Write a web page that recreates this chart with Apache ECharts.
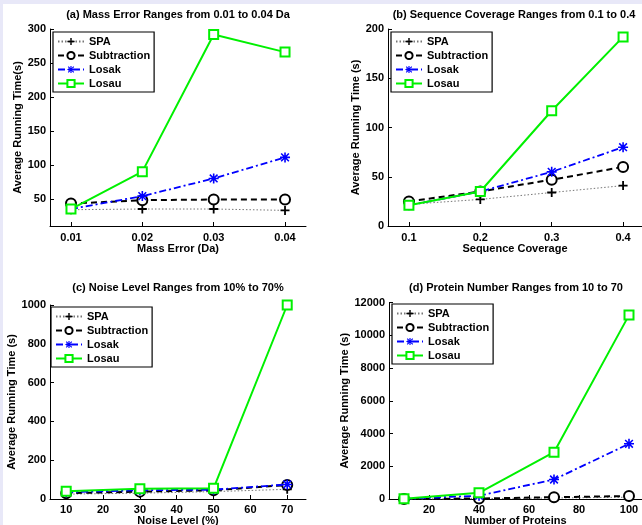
<!DOCTYPE html>
<html>
<head>
<meta charset="utf-8">
<script src="https://cdn.jsdelivr.net/npm/echarts@6/dist/echarts.min.js"></script>
<style>html,body{margin:0;padding:0;background:#fff}#c{width:642px;height:525px}</style>
</head>
<body>
<div id="c"></div>
<script>
// ---- data ----
const seriesNames = ['SPA', 'Subtraction', 'Losak', 'Losau'];

const massErrorX = [0.01, 0.02, 0.03, 0.04];
const massSPA = [34, 35, 35, 33];
const massSub = [43, 48, 49, 49];
const massLosak = [35, 54, 80, 111];
const massLosau = [35, 90, 292, 266];
const massXTicks = [0.01, 0.02, 0.03, 0.04];
const massYTicks = [50, 100, 150, 200, 250, 300];

const covX = [0.1, 0.2, 0.3, 0.4];
const covSPA = [22, 27, 34, 41];
const covSub = [25, 35, 47, 60];
const covLosak = [21, 35, 55, 80];
const covLosau = [21, 35, 117, 192];
const covXTicks = [0.1, 0.2, 0.3, 0.4];
const covYTicks = [0, 50, 100, 150, 200];

const noiseX = [10, 30, 50, 70];
const noiseSPA = [25, 30, 38, 50];
const noiseSub = [30, 38, 45, 72];
const noiseLosak = [35, 45, 48, 75];
const noiseLosau = [40, 53, 55, 1000];
const noiseXTicks = [10, 20, 30, 40, 50, 60, 70];
const noiseYTicks = [0, 200, 400, 600, 800, 1000];

const protX = [10, 40, 70, 100];
const protSPA = [5, 20, 60, 110];
const protSub = [5, 30, 110, 180];
const protLosak = [10, 200, 1190, 3370];
const protLosau = [20, 380, 2860, 11230];
const protXTicks = [20, 40, 60, 80, 100];
const protYTicks = [0, 2000, 4000, 6000, 8000, 10000, 12000];

const titles = [
  '(a) Mass Error Ranges from 0.01 to 0.04 Da',
  '(b) Sequence Coverage Ranges from 0.1 to 0.4',
  '(c) Noise Level Ranges from 10% to 70%',
  '(d) Protein Number Ranges from 10 to 70'
];
const xNames = ['Mass Error (Da)', 'Sequence Coverage', 'Noise Level (%)', 'Number of Proteins'];
const yNames = ['Average Running Time(s)', 'Average Running Time (s)', 'Average Running Time (s)', 'Average Running Time (s)'];

// ---- layout / styles ----
const FONT = 'Liberation Sans, Arial, Helvetica, sans-serif';
const panels = [
  {x: massErrorX, ys: [massSPA, massSub, massLosak, massLosau], xt: massXTicks, yt: massYTicks,
   xmin: 0.00706, xmax: 0.04294, ymin: 10, ymax: 300,
   grid: {left: 50, right: 336, top: 29, bottom: 299}, yGap: 26, xGap: 16, xMargin: 6, leg: {left: 53, top: 32}, title: [178, 16], fmtX: v => v.toFixed(2)},
  {x: covX, ys: [covSPA, covSub, covLosak, covLosau], xt: covXTicks, yt: covYTicks,
   xmin: 0.0707, xmax: 0.4265, ymin: 0, ymax: 200,
   grid: {left: 388, right: 0, top: 29, bottom: 299}, yGap: 25, xGap: 16, xMargin: 6, leg: {left: 391, top: 32}, title: [514, 16], fmtX: v => v.toFixed(1)},
  {x: noiseX, ys: [noiseSPA, noiseSub, noiseLosak, noiseLosau], xt: noiseXTicks, yt: noiseYTicks,
   xmin: 5.6, xmax: 75.1, ymin: 0, ymax: 1000,
   grid: {left: 50, right: 336, top: 305, bottom: 26}, yGap: 33, xGap: 13, xMargin: 5, leg: {left: 51, top: 307}, title: [178, 289], fmtX: v => String(v)},
  {x: protX, ys: [protSPA, protSub, protLosak, protLosau], xt: protXTicks, yt: protYTicks,
   xmin: 4, xmax: 105.2, ymin: 0, ymax: 12000,
   grid: {left: 389, right: 0, top: 302.5, bottom: 26}, yGap: 39, xGap: 13, xMargin: 5, leg: {left: 392, top: 304}, title: [516, 289], fmtX: v => String(v)}
];

const PLUS = 'path://M4,0H6V4H10V6H6V10H4V6H0V4H4Z';
const STAR = 'path://M4.2,0H5.8V10H4.2Z M0,4.2H10V5.8H0Z M0.6,1.7L1.7,0.6L9.4,8.3L8.3,9.4Z M8.3,0.6L9.4,1.7L1.7,9.4L0.6,8.3Z';
const styles = {
  SPA: {symbol: PLUS, symbolSize: 9, itemStyle: {color: '#000'}, lineStyle: {color: '#777', width: 1, type: [1.5, 2]}},
  Subtraction: {symbol: 'emptyCircle', symbolSize: 10, itemStyle: {color: '#000', borderWidth: 1.8}, lineStyle: {color: '#000', width: 2, type: [6, 4]}},
  Losak: {symbol: STAR, symbolSize: 10, itemStyle: {color: '#0000ff'}, lineStyle: {color: '#0000ff', width: 1.8, type: [7, 3, 2, 3]}},
  Losau: {symbol: 'emptyRect', symbolSize: 9, itemStyle: {color: '#00f000', borderWidth: 1.8}, lineStyle: {color: '#00f000', width: 2, type: 'solid'}}
};

const grids = [], xAxes = [], yAxes = [], series = [], legends = [], titleOpts = [];
panels.forEach((p, i) => {
  grids.push(Object.assign({outerBoundsMode: 'none', containLabel: false}, p.grid));
  xAxes.push({
    type: 'value', gridIndex: i, min: p.xmin, max: p.xmax,
    name: xNames[i], nameLocation: 'middle', nameGap: p.xGap,
    nameTextStyle: {fontFamily: FONT, fontWeight: 'bold', fontSize: 11, color: '#000', lineHeight: 11},
    axisLine: {show: true, onZero: false, lineStyle: {color: '#000', width: 1}},
    axisTick: {show: true, inside: true, length: 4, customValues: p.xt, lineStyle: {color: '#000'}},
    axisLabel: {show: true, customValues: p.xt, margin: p.xMargin, formatter: p.fmtX, fontFamily: FONT, fontWeight: 'bold', fontSize: 11, color: '#000'},
    splitLine: {show: false}
  });
  yAxes.push({
    type: 'value', gridIndex: i, min: p.ymin, max: p.ymax,
    name: yNames[i], nameLocation: 'middle', nameGap: p.yGap, nameRotate: 90,
    nameTextStyle: {fontFamily: FONT, fontWeight: 'bold', fontSize: 11, color: '#000'},
    axisLine: {show: true, onZero: false, lineStyle: {color: '#000', width: 1}},
    axisTick: {show: true, inside: true, length: 4, customValues: p.yt, lineStyle: {color: '#000'}},
    axisLabel: {show: true, customValues: p.yt, margin: 4, formatter: v => String(v), fontFamily: FONT, fontWeight: 'bold', fontSize: 11, color: '#000'},
    splitLine: {show: false}
  });
  seriesNames.forEach((n, k) => {
    const st = styles[n];
    series.push({
      type: 'line', name: n, xAxisIndex: i, yAxisIndex: i,
      data: p.x.map((xv, j) => [xv, p.ys[k][j]]),
      symbol: st.symbol, symbolSize: st.symbolSize, showAllSymbol: true,
      itemStyle: st.itemStyle, lineStyle: st.lineStyle,
      emphasis: {disabled: true}, animation: false, clip: false, z: 2 + k
    });
  });
  legends.push({
    data: seriesNames, orient: 'vertical', left: p.leg.left, top: p.leg.top,
    itemWidth: 26, itemHeight: 9, itemGap: 1, itemTextGap: 3,
    padding: [3, 4, 2, 4], borderColor: '#000', borderWidth: 1.2, backgroundColor: '#fff',
    textStyle: {fontFamily: FONT, fontWeight: 'bold', fontSize: 11, color: '#000', lineHeight: 13},
    selectedMode: false
  });
  titleOpts.push({
    text: titles[i], left: p.title[0], top: p.title[1] - 7, textAlign: 'center',
    padding: 0,
    textStyle: {fontFamily: FONT, fontWeight: 'bold', fontSize: 11, color: '#000'}
  });
});

const chart = echarts.init(document.getElementById('c'), null, {renderer: 'canvas'});
chart.setOption({
  backgroundColor: '#fff',
  animation: false,
  title: titleOpts,
  grid: grids, xAxis: xAxes, yAxis: yAxes, series: series, legend: legends,
  graphic: [
    {type: 'rect', shape: {x: 0, y: 0, width: 642, height: 4}, style: {fill: '#e8e8f8'}, silent: true, z: -10},
    {type: 'rect', shape: {x: 0, y: 0, width: 3, height: 525}, style: {fill: '#e8e8f8'}, silent: true, z: -10}
  ]
});
</script>
</body>
</html>
